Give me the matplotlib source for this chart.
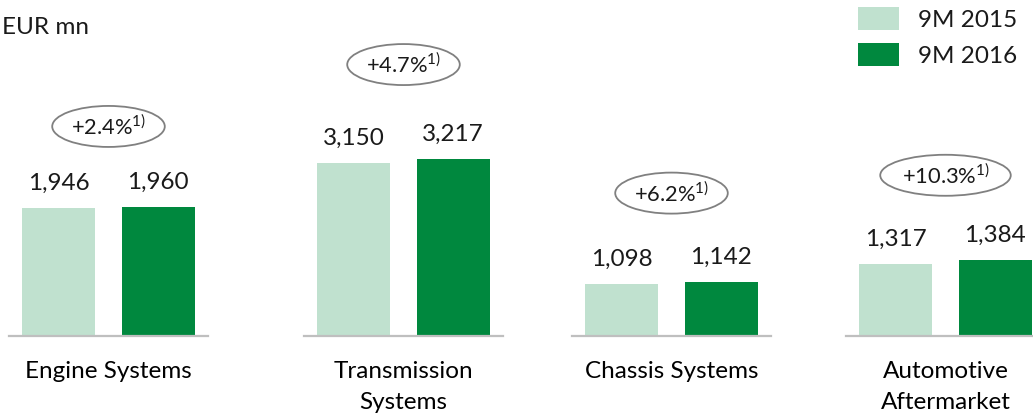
import matplotlib
matplotlib.use("Agg")
import matplotlib.pyplot as plt

plt.rcParams['font.family'] = ['Lato', 'DejaVu Sans']
plt.rcParams['mathtext.fontset'] = 'custom'
plt.rcParams['mathtext.rm'] = 'Lato'
plt.rcParams['text.color'] = '#1a1a1a'

# sales by division, EUR mn
categories = ["Engine Systems", "Transmission\nSystems", "Chassis Systems", "Automotive\nAftermarket"]
series = ["9M 2015", "9M 2016"]
sales_2015 = [1946, 3150, 1098, 1317]
sales_2016 = [1960, 3217, 1142, 1384]
growth = ["+2.4%", "+4.7%", "+6.2%", "+10.3%"]

light = '#C0E1CF'
dark = '#00883E'
fs = 17.5

W, H = 1033, 415
fig = plt.figure(figsize=(W / 100, H / 100), dpi=100)

# each division sits in its own panel with its own scale
panel_left = [9, 304, 572, 846]
panel_width = 199
baseline = 336
y_top = [5105, 6107, 7105, 6119]
bubble_offset = [58, 68, 64, 61]

legend_handles = []
for i, cat in enumerate(categories):
    ax = fig.add_axes([panel_left[i] / W, 1 - baseline / H, panel_width / W, baseline / H])
    b1 = ax.bar(0, sales_2015[i], width=0.73, color=light, label=series[0])
    b2 = ax.bar(1, sales_2016[i], width=0.73, color=dark, label=series[1])
    if i == 0:
        legend_handles = [b1, b2]
    ax.set_xlim(-0.5, 1.5)
    ax.set_ylim(0, y_top[i])
    for side in ['top', 'left', 'right']:
        ax.spines[side].set_visible(False)
    ax.spines['bottom'].set_color('#BFBFBF')
    ax.spines['bottom'].set_linewidth(1.6)
    ax.set_yticks([])
    ax.set_xticks([0.5])
    ax.set_xticklabels([cat], fontsize=fs, linespacing=1.6)
    ax.tick_params(axis='x', length=0, pad=18)
    ax.patch.set_alpha(0)

    for x, v in [(0, sales_2015[i]), (1, sales_2016[i])]:
        ax.annotate(f"{v:,}", (x, v), xytext=(0, 13), textcoords='offset points',
                    ha='center', va='baseline', fontsize=fs)

    ax.annotate(growth[i] + r"$^{\mathrm{1)}}$", (0.5, max(sales_2015[i], sales_2016[i])),
                xytext=(0, bubble_offset[i]), textcoords='offset points',
                ha='center', va='center', fontsize=fs * 0.9,
                bbox=dict(boxstyle='ellipse,pad=0.1', fc='white', ec='#808080', lw=1.3))

fig.text(2 / W, 1 - 27 / H, "EUR mn", fontsize=fs, va='center', ha='left')

fig.legend(handles=legend_handles, labels=series, loc='upper left',
           bbox_to_anchor=(858 / W, 1 - 7 / H), frameon=False, fontsize=fs,
           borderpad=0, borderaxespad=0, handlelength=1.7, handleheight=1.1,
           handletextpad=0.75, labelspacing=0.5)

fig.savefig("out.png", dpi=100)
